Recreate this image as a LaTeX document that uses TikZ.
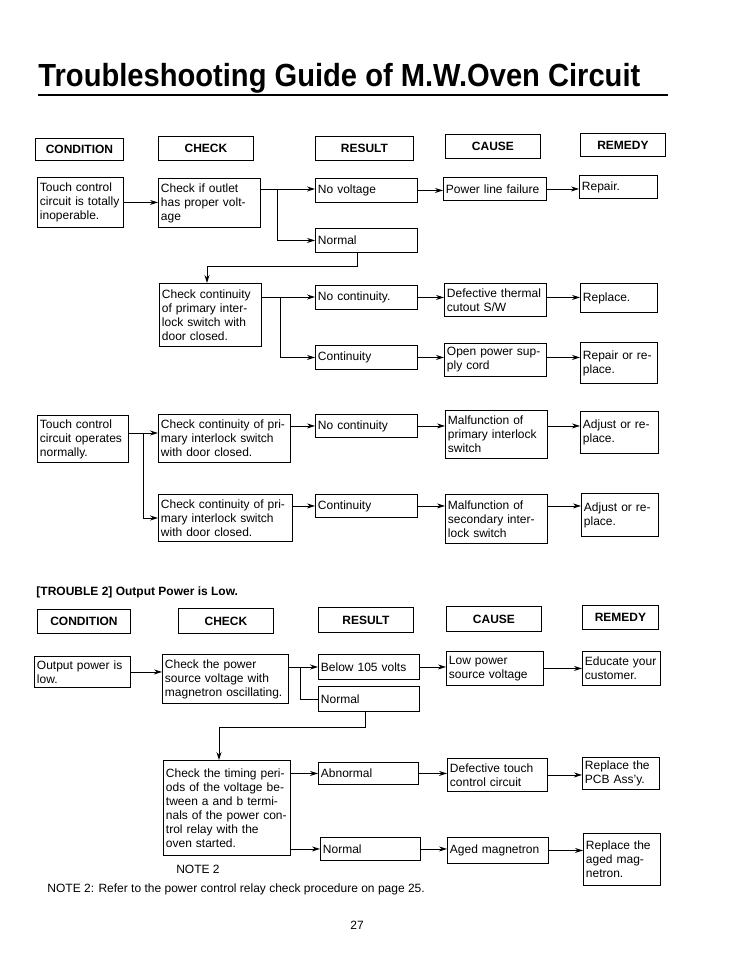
\documentclass[tikz,border=0pt]{standalone}
\usepackage{fontspec}
\setmainfont{Liberation Sans}
\newfontfamily\titlefont[FakeStretch=0.91]{Liberation Sans}
\usetikzlibrary{arrows.meta, positioning, calc}
\tikzset{
    box/.style={draw, rectangle, anchor=north west, align=left, inner xsep=2.5pt, inner ysep=1pt, font=\fontsize{12}{14}\selectfont},
    head/.style={draw, rectangle, anchor=north west, inner sep=0pt, font=\fontsize{12}{14}\selectfont\bfseries},
    txt/.style={inner sep=0pt, font=\fontsize{12}{14}\selectfont},
    sz/.style 2 args={text width=#1, minimum height=#2},
    hsz/.style 2 args={minimum width=#1, minimum height=#2},
    arr/.style={-{Stealth[length=8pt, width=5pt]}},
}

\begin{document}
\begin{tikzpicture}[x=1pt, y=-1pt, line width=0.9pt]
    \useasboundingbox (0,0) rectangle (750,970);

    \node[anchor=base west, inner sep=0pt, font=\titlefont\fontsize{32}{36}\selectfont\bfseries] (title) at (38,86) {Troubleshooting Guide of M.W.Oven Circuit};
    \coordinate (ulend) at (668,95);
    \draw[line width=2pt] (title.base west |- ulend) -- (ulend);

    % headers
    \node[head, hsz={88}{22}] (condA) at (35,138) {CONDITION};
    \node[head, hsz={95}{24}] (checkA) at (158,136) {CHECK};
    \node[head, hsz={98}{24}] (resultA) at (315,136) {RESULT};
    \node[head, hsz={95}{24}] (causeA) at (445,134) {CAUSE};
    \node[head, hsz={85}{23}] (remedyA) at (580,133) {REMEDY};

    % touch control inoperable
    \node[box, sz={81pt}{50}] (touchA) at (37,177) {Touch control\\circuit is totally\\inoperable.};
    \node[box, sz={97pt}{49}] (outlet) at (158,178) {Check if outlet\\has proper volt-\\age};
    \node[box, sz={97pt}{24}] (novolt) at (315,178) {No voltage};
    \node[box, sz={97pt}{24}] (normA) at (315,228) {Normal};
    \node[box, sz={98pt}{23}] (linefail) at (443,177) {Power line failure};
    \node[box, sz={73pt}{23}] (repairA) at (579,175) {Repair.};

    \draw[arr] (touchA) -- (outlet.west |- touchA);
    \coordinate (splitA) at (277,189);
    \draw (outlet.east |- splitA) -- (splitA);
    \draw[arr] (splitA) -- (novolt.west |- splitA);
    \draw[arr] (splitA) |- (normA.west);
    \draw[arr] (novolt) -- (linefail.west |- novolt);
    \draw[arr] (linefail) -- (repairA.west |- linefail);

    \node[box, sz={97pt}{63}] (contA) at (159,283) {Check continuity\\of primary inter-\\lock switch with\\door closed.};
    \coordinate (bendA) at (357,266);
    \coordinate (bendB) at (207,266);
    \draw[arr] (normA.south -| bendA) -- (bendA) -- (bendB) -- (bendB |- contA.north);

    \node[box, sz={97pt}{24}] (nocontA) at (315,285) {No continuity.};
    \node[box, sz={97pt}{24}] (contyA) at (315,345) {Continuity};
    \node[box, sz={97pt}{33}] (thermal) at (444,283) {Defective thermal\\cutout S/W};
    \node[box, sz={72pt}{29}] (replaceA) at (580,283) {Replace.};
    \node[box, sz={97pt}{33}] (cordopen) at (444,343) {Open power sup-\\ply cord};
    \node[box, sz={72pt}{41}] (repairB) at (580,342) {Repair or re-\\place.};

    \coordinate (splitB) at (280,297);
    \draw (contA.east |- splitB) -- (splitB);
    \draw[arr] (splitB) -- (nocontA.west |- splitB);
    \draw[arr] (splitB) |- (contyA.west);
    \draw[arr] (nocontA) -- (thermal.west |- nocontA);
    \draw[arr] (thermal.east |- nocontA) -- (replaceA.west |- nocontA);
    \draw[arr] (contyA) -- (cordopen.west |- contyA);
    \draw[arr] (cordopen.east |- contyA) -- (repairB.west |- contyA);

    % touch control operates
    \node[box, sz={86pt}{47}] (touchB) at (37,415) {Touch control\\circuit operates\\normally.};
    \node[box, sz={127pt}{48}] (primA) at (158,414) {Check continuity of pri-\\mary interlock switch\\with door closed.};
    \node[box, sz={129pt}{47}] (primB) at (158,494) {Check continuity of pri-\\mary interlock switch\\with door closed.};
    \node[box, sz={97pt}{23}] (nocontB) at (315,414) {No continuity};
    \node[box, sz={97pt}{23}] (contyB) at (315,494) {Continuity};
    \node[box, sz={97pt}{48}] (malA) at (445,410) {Malfunction of\\primary interlock\\switch};
    \node[box, sz={73pt}{42}] (adjA) at (580,411) {Adjust or re-\\place.};
    \node[box, sz={97pt}{49}] (malB) at (445,494) {Malfunction of\\secondary inter-\\lock switch};
    \node[box, sz={72pt}{43}] (adjB) at (581,493) {Adjust or re-\\place.};

    \coordinate (splitC) at (143,433);
    \coordinate (splitD) at (143,518);
    \draw (touchB.east |- splitC) -- (splitC);
    \draw[arr] (splitC) -- (primA.west |- splitC);
    \draw[arr] (splitC) -- (splitD) -- (primB.west |- splitD);
    \draw[arr] (primA.east |- nocontB) -- (nocontB);
    \draw[arr] (primB.east |- contyB) -- (contyB);
    \draw[arr] (nocontB) -- (malA.west |- nocontB);
    \draw[arr] (malA.east |- nocontB) -- (adjA.west |- nocontB);
    \draw[arr] (contyB) -- (malB.west |- contyB);
    \draw[arr] (malB.east |- contyB) -- (adjB.west |- contyB);

    % trouble 2
    \node[txt, anchor=base west, font=\fontsize{12}{14}\selectfont\bfseries] (trouble) at (36,595) {[TROUBLE 2] Output Power is Low.};

    \node[head, hsz={93}{24}] (condB) at (37,609) {CONDITION};
    \node[head, hsz={95}{25}] (checkB) at (178,608) {CHECK};
    \node[head, hsz={95}{25}] (resultB) at (318,607) {RESULT};
    \node[head, hsz={95}{25}] (causeB) at (446,606) {CAUSE};
    \node[head, hsz={76}{24}] (remedyB) at (582,605) {REMEDY};

    \node[box, sz={91pt}{31}] (lowout) at (34,656) {Output power is\\low.};
    \node[box, sz={121pt}{49}] (srcchk) at (162,654) {Check the power\\source voltage with\\magnetron oscillating.};
    \node[box, sz={96pt}{25}] (below) at (318,654) {Below 105 volts};
    \node[box, sz={96pt}{25}] (normB) at (318,686) {Normal};
    \node[box, sz={92pt}{34}] (lowsrc) at (446,651) {Low power\\source voltage};
    \node[box, sz={73pt}{34}] (educate) at (582,651) {Educate your\\customer.};

    \draw[arr] (lowout) -- (srcchk.west |- lowout);
    \coordinate (splitE) at (300,667);
    \draw (srcchk.east |- splitE) -- (splitE);
    \draw[arr] (splitE) -- (below.west |- splitE);
    \draw (splitE) |- (normB.west);
    \draw[arr] (below) -- (lowsrc.west |- below);
    \draw[arr] (lowsrc) -- (educate.west |- lowsrc);

    \node[box, sz={122pt}{95}] (timing) at (163,760) {Check the timing peri-\\ods of the voltage be-\\tween a and b termi-\\nals of the power con-\\trol relay with the\\oven started.};
    \coordinate (bendC) at (365,727);
    \coordinate (bendD) at (219,727);
    \draw[arr] (normB.south -| bendC) -- (bendC) -- (bendD) -- (bendD |- timing.north);

    \node[box, sz={95pt}{22}] (abnorm) at (318,762) {Abnormal};
    \node[box, sz={95pt}{23}] (normC) at (320,837) {Normal};
    \node[box, sz={95pt}{33}] (touchdef) at (447,758) {Defective touch\\control circuit};
    \node[box, sz={72pt}{32}] (pcb) at (582,757) {Replace the\\PCB Ass'y.};
    \node[box, sz={96pt}{26}] (aged) at (447,837) {Aged magnetron};
    \node[box, sz={72pt}{52}] (replmag) at (583,833) {Replace the\\aged mag-\\netron.};

    \draw[arr] (timing.east |- abnorm) -- (abnorm);
    \draw[arr] (timing.east |- normC) -- (normC);
    \draw[arr] (abnorm) -- (touchdef.west |- abnorm);
    \draw[arr] (touchdef) -- (pcb.west |- touchdef);
    \draw[arr] (normC) -- (aged.west |- normC);
    \draw[arr] (aged) -- (replmag.west |- aged);

    \node[txt] (noteA) at (198,869) {NOTE 2};
    \node[txt, anchor=west] (noteB) at (47,889) {NOTE 2: Refer to the power control relay check procedure on page 25.};
    \node[txt] (pagenum) at (357,925) {27};
\end{tikzpicture}
\end{document}
